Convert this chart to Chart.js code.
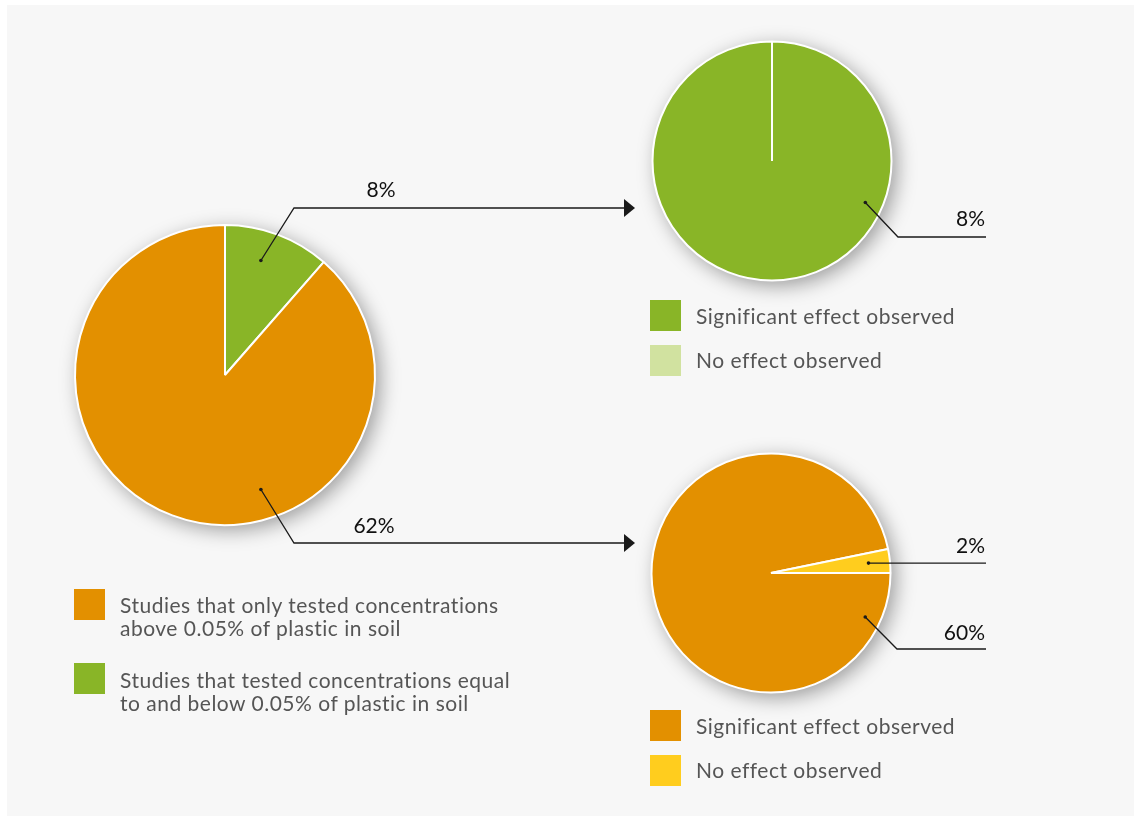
<!DOCTYPE html>
<html>
<head>
<meta charset="utf-8">
<script src="https://cdn.jsdelivr.net/npm/chart.js@4"></script>
<style>
  html, body { margin: 0; padding: 0; background: #ffffff; }
  body { width: 1134px; height: 816px; position: relative; overflow: hidden; font-family: "Lato", "Noto Sans", sans-serif; }
  #panel { position: absolute; left: 7px; top: 5px; width: 1127px; height: 811px; background: #f7f7f7; }
  canvas.pie { position: absolute; }
  #overlay { position: absolute; left: 0; top: 0; z-index: 5; }
  .legend { position: absolute; left: 0; top: 0; z-index: 6; color: #555555; font-size: 21px; letter-spacing: 0.5px; }
  .sw { position: absolute; width: 31px; height: 31px; }
  .txt { position: absolute; line-height: 23px; white-space: nowrap; }
</style>
</head>
<body>
<div id="panel"></div>
<canvas id="mainPie" class="pie" width="380" height="380" style="left:35px;top:185px"></canvas>
<canvas id="lowPie" class="pie" width="320" height="320" style="left:612px;top:1px"></canvas>
<canvas id="highPie" class="pie" width="320" height="320" style="left:611px;top:413px"></canvas>
<canvas id="overlay" width="1134" height="816"></canvas>

<div class="legend" id="legMain"></div>
<div class="legend" id="legLow"></div>
<div class="legend" id="legHigh"></div>

<script>
// ---- data ----
const mainLabels = ["Studies that tested concentrations equal to and below 0.05% of plastic in soil",
                    "Studies that only tested concentrations above 0.05% of plastic in soil"];
const mainValues = [8, 62];

const effectLabels = ["Significant effect observed", "No effect observed"];
const lowValues = [8, 0];    // studies at or below 0.05%
const highValues = [60, 2];  // studies above 0.05%

// ---- colours ----
const ORANGE = "#e39000";
const GREEN = "#89b527";
const LIGHT_GREEN = "#d1e2a0";
const YELLOW = "#ffcd1e";

// soft drop shadow under each pie
const pieShadow = {
  id: "pieShadow",
  beforeDatasetsDraw(chart) {
    const arc = chart.getDatasetMeta(0).data[0];
    if (!arc) return;
    const ctx = chart.ctx;
    ctx.save();
    ctx.shadowColor = "rgba(0,0,0,0.38)";
    ctx.shadowBlur = 20;
    ctx.shadowOffsetX = 5;
    ctx.shadowOffsetY = 5;
    ctx.fillStyle = "#f7f7f7";
    ctx.beginPath();
    ctx.arc(arc.x, arc.y, arc.outerRadius, 0, Math.PI * 2);
    ctx.fill();
    ctx.restore();
  }
};

function makePie(id, labels, values, colors, radius, rotation) {
  return new Chart(document.getElementById(id), {
    type: "pie",
    data: {
      labels: labels,
      datasets: [{
        data: values,
        backgroundColor: colors,
        borderColor: "#ffffff",
        borderWidth: 2,
        radius: radius
      }]
    },
    options: {
      responsive: false,
      animation: false,
      rotation: rotation,
      layout: { padding: 0 },
      plugins: { legend: { display: false }, tooltip: { enabled: false } },
      events: []
    },
    plugins: [pieShadow]
  });
}

const mainChart = makePie("mainPie", mainLabels, mainValues, [GREEN, ORANGE], 150, 0);
const lowChart = makePie("lowPie", effectLabels, lowValues, [GREEN, LIGHT_GREEN], 119.5, 0);
const highChart = makePie("highPie", effectLabels, highValues, [ORANGE, YELLOW], 119.5, 90);

// ---- leader lines with value labels ----
// anchor: angle in degrees clockwise from 12 o'clock (null = middle of the slice), frac of radius
const leaders = [
  { chart: mainChart, idx: 0, angle: 17.4, frac: 0.80, elbow: [294, 208], endX: 635, arrow: true,
    labelX: 381, labelY: 197, align: "center" },
  { chart: mainChart, idx: 1, angle: 162.6, frac: 0.80, elbow: [294, 543], endX: 635, arrow: true,
    labelX: 374, labelY: 533, align: "center" },
  { chart: lowChart, idx: 0, angle: 114, frac: 0.855, elbow: [898, 237], endX: 986, arrow: false,
    labelX: 985, labelY: 226, align: "right" },
  { chart: highChart, idx: 1, angle: null, frac: 0.82, elbow: null, endX: 986, arrow: false,
    labelX: 985, labelY: 553, align: "right" },
  { chart: highChart, idx: 0, angle: 115, frac: 0.87, elbow: [897, 649], endX: 986, arrow: false,
    labelX: 985, labelY: 640, align: "right" }
];

function drawLeaders() {
  const ov = document.getElementById("overlay");
  const ctx = ov.getContext("2d");
  ctx.clearRect(0, 0, ov.width, ov.height);
  leaders.forEach(l => {
    const c = l.chart;
    const arc = c.getDatasetMeta(0).data[l.idx];
    const left = c.canvas.offsetLeft, top = c.canvas.offsetTop;
    const a = l.angle === null ? (arc.startAngle + arc.endAngle) / 2
                               : l.angle * Math.PI / 180 - Math.PI / 2;
    const px = left + arc.x + Math.cos(a) * arc.outerRadius * l.frac;
    const py = top + arc.y + Math.sin(a) * arc.outerRadius * l.frac;
    const yLine = l.elbow ? l.elbow[1] : py;
    const lineEnd = l.arrow ? l.endX - 10 : l.endX;

    ctx.strokeStyle = "#1a1a1a";
    ctx.lineWidth = 1.3;
    ctx.beginPath();
    ctx.moveTo(px, py);
    if (l.elbow) ctx.lineTo(l.elbow[0], l.elbow[1]);
    ctx.lineTo(lineEnd, yLine);
    ctx.stroke();

    ctx.fillStyle = "#1a1a1a";
    ctx.beginPath();
    ctx.arc(px, py, 1.8, 0, Math.PI * 2);
    ctx.fill();

    if (l.arrow) {
      ctx.beginPath();
      ctx.moveTo(l.endX - 11, yLine - 9);
      ctx.lineTo(l.endX, yLine);
      ctx.lineTo(l.endX - 11, yLine + 9);
      ctx.closePath();
      ctx.fill();
    }

    const v = c.data.datasets[0].data[l.idx];
    ctx.font = '21px "Lato", "Noto Sans", sans-serif';
    ctx.textAlign = l.align;
    ctx.textBaseline = "alphabetic";
    ctx.fillStyle = "#111111";
    ctx.fillText(v + "%", l.labelX, l.labelY);
  });
}
drawLeaders();

// ---- legends ----
function buildLegend(id, items) {
  const el = document.getElementById(id);
  items.forEach(it => {
    const sw = document.createElement("div");
    sw.className = "sw";
    sw.style.left = it.x + "px";
    sw.style.top = it.y + "px";
    sw.style.background = it.color;
    el.appendChild(sw);
    const t = document.createElement("div");
    t.className = "txt";
    t.style.left = (it.x + 46) + "px";
    t.style.top = (it.ty) + "px";
    t.innerHTML = it.lines.join("<br>");
    el.appendChild(t);
  });
}

buildLegend("legMain", [
  { x: 74, y: 589, ty: 593, color: ORANGE,
    lines: ["Studies that only tested concentrations", "above 0.05% of plastic in soil"] },
  { x: 74, y: 663, ty: 668, color: GREEN,
    lines: ["Studies that tested concentrations equal", "to and below 0.05% of plastic in soil"] }
]);
buildLegend("legLow", [
  { x: 650, y: 300, ty: 304, color: GREEN, lines: [effectLabels[0]] },
  { x: 650, y: 345, ty: 348, color: LIGHT_GREEN, lines: [effectLabels[1]] }
]);
buildLegend("legHigh", [
  { x: 650, y: 710, ty: 714, color: ORANGE, lines: [effectLabels[0]] },
  { x: 650, y: 755, ty: 758, color: YELLOW, lines: [effectLabels[1]] }
]);
</script>
</body>
</html>
